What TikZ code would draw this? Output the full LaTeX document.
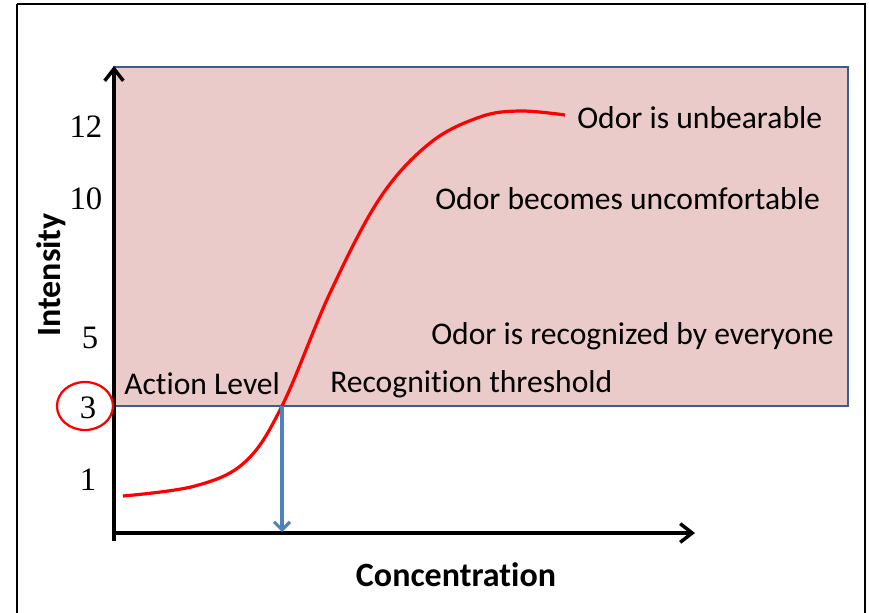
\documentclass[tikz,border=0pt]{standalone}
\usepackage{fontspec}
\setmainfont[Ligatures=NoCommon]{Carlito}
\newfontfamily\serifnum{Liberation Serif}
\usetikzlibrary{arrows.meta}
\definecolor{pinkfill}{RGB}{235,202,202}
\definecolor{rectblue}{RGB}{58,95,142}
\definecolor{arrblue}{RGB}{79,129,189}
\tikzset{
  px/.style={x=0.75pt,y=-0.75pt},
  lbl/.style={font=\fontsize{23.7}{25}\selectfont, inner sep=0pt, anchor=west},
  tick/.style={font=\serifnum\fontsize{24.5}{26}\selectfont, inner sep=0pt},
  axis/.style={line width=2.6pt, -{Straight Barb[length=9pt,width=14pt,line width=2.6pt]}},
  bold/.style={font=\bfseries\fontsize{25.5}{27}\selectfont, inner sep=0pt}
}
\begin{document}
\begin{tikzpicture}[px]
\useasboundingbox (0,0) rectangle (869,613);
% outer frame
\draw[line width=1.4pt] (17,4) -- (865,4) -- (865,620) (17,4) -- (17,620);
% shaded region
\filldraw[fill=pinkfill, draw=rectblue, line width=2.1pt] (114,67) rectangle (848,406);
\coordinate (yb) at (114,541);
\coordinate (yt) at (114,66);
\coordinate (xl) at (114,533);
\coordinate (xr) at (695,533);
\draw[axis] (yb) -- (yt);
\draw[axis] (xl) -- (xr);
% curve
\draw[red, line width=2.4pt] plot[smooth, tension=0.6] coordinates {(123,496) (195,486) (245,462) (282,406) (330,293) (380,198) (430,143) (480,117) (520,111) (565,115)};
\coordinate (cross) at (282,406);
\coordinate (foot) at (282,532);
\draw[arrblue, line width=2.3pt, -{Straight Barb[length=6pt,width=12pt,line width=2.3pt]}] (cross) -- (foot);
% ticks
\node[tick] (t12) at (86,127) {12};
\node[tick] (t10) at (86,199) {10};
\node[tick] (t5) at (90,338) {5};
\node[tick] (t3) at (88,408) {3};
\node[tick] (t1) at (88,480) {1};
\draw[red, line width=1.7pt] (85,406) ellipse [x radius=28, y radius=24];
% labels
\node[lbl] (l12) at (577,118) {Odor is unbearable};
\node[lbl] (l10) at (435,199) {Odor becomes uncomfortable};
\node[lbl] (l5) at (431,336) {Odor is recognized by everyone};
\node[lbl] (al) at (124,384) {Action Level};
\node[lbl] (rt) at (330,384) {Recognition threshold};
\node[bold, rotate=90] (ylab) at (51,275) {Intensity};
\node[bold] (xlab) at (456,575) {Concentration};
\end{tikzpicture}
\end{document}
